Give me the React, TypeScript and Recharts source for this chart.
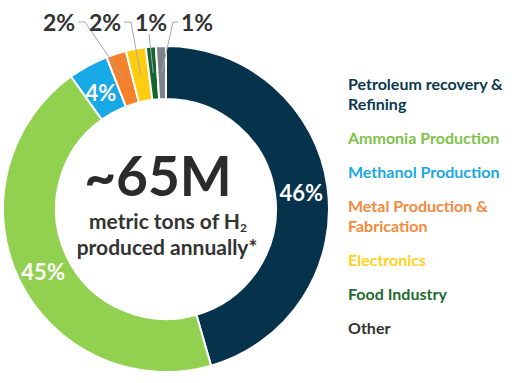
import React from "react";
import { PieChart, Pie, Cell, Legend, Label } from "recharts";

const categories = [
  "Petroleum recovery & Refining",
  "Ammonia Production",
  "Methanol Production",
  "Metal Production & Fabrication",
  "Electronics",
  "Food Industry",
  "Other",
];
const shares = [46, 45, 4, 2, 2, 1, 1];
const sliceColors = ["#06324b", "#92d050", "#16a9e6", "#f4812c", "#ffcc10", "#13652f", "#7d8188"];
const legendColors = ["#0c3850", "#7ec24a", "#1aa8e2", "#f58a3d", "#ffd21e", "#1e6a30", "#333333"];
const centerBig = "~65M";
const centerLine1 = "metric tons of H";
const centerLine2 = "produced annually*";

const data = categories.map((name, i) => ({ name, value: shares[i] }));

const FONT = "Lato, 'Open Sans', sans-serif";
const RAD = Math.PI / 180;

function renderLabel(props: any) {
  const { cx, cy, midAngle, innerRadius, outerRadius, index, value } = props;
  const r = (innerRadius + outerRadius) / 2;
  const px = cx + r * Math.cos(-midAngle * RAD);
  const py = cy + r * Math.sin(-midAngle * RAD);
  const text = `${value}%`;
  if (index < 3) {
    return (
      <text key={`l${index}`} x={px} y={py + 3} fill="#fff" fontFamily={FONT} fontWeight={700} fontSize={22}
        textAnchor="middle" dominantBaseline="central">
        {text}
      </text>
    );
  }
  // small slices: labels in a row above the ring with leader lines
  const tx = cx - 107 + (index - 3) * 46;
  const ty = cy - outerRadius - 24;
  let pts: string;
  if (index === 3 || index === 4) {
    pts = `${tx + 19},${ty} ${tx + 26},${ty} ${px},${py}`;
  } else if (index === 5) {
    pts = `${tx - 2},${ty + 12} ${px},${py}`;
  } else {
    pts = `${tx - 19},${ty} ${tx - 24},${ty} ${px},${py}`;
  }
  return (
    <g key={`l${index}`}>
      <polyline points={pts} fill="none" stroke="#a6a6a6" strokeWidth={1} />
      <text x={tx} y={ty} fill="#333" fontFamily={FONT} fontWeight={700} fontSize={23}
        textAnchor="middle" dominantBaseline="central">
        {text}
      </text>
    </g>
  );
}

function CenterText(props: any) {
  const vb = props.viewBox || {};
  const cx = vb.cx ?? 166;
  const cy = vb.cy ?? 209;
  return (
    <g fontFamily={FONT} fontWeight={700} fill="#2b2b2b" textAnchor="middle">
      <text x={cx - 8} y={cy - 13} fontSize={55} fill="#2b2b2b" textAnchor="middle">{centerBig}</text>
      <text x={cx + 2} y={cy + 20} fontSize={21} fill="#333" textAnchor="middle">
        {centerLine1}
        <tspan fontSize={12} dy={3}>2</tspan>
      </text>
      <text x={cx + 1} y={cy + 46} fontSize={21} fill="#333" textAnchor="middle">{centerLine2}</text>
    </g>
  );
}

function LegendBox() {
  return (
    <div style={{ width: 164, fontFamily: FONT, fontWeight: 700, fontSize: 16, lineHeight: "20px" }}>
      {categories.map((c, i) => (
        <div key={c} style={{ color: legendColors[i], marginBottom: 14 }}>{c}</div>
      ))}
    </div>
  );
}

export default function App() {
  return (
    <div style={{ position: "fixed", left: 0, top: 0, width: 512, height: 383, background: "#fff" }}>
      <PieChart width={512} height={383} margin={{ top: 0, right: 0, bottom: 0, left: 0 }}>
        <Pie
          data={data}
          dataKey="value"
          nameKey="name"
          cx={166}
          cy={209}
          innerRadius={110}
          outerRadius={163}
          startAngle={90}
          endAngle={-270}
          stroke="#fff"
          strokeWidth={2}
          label={renderLabel}
          labelLine={false}
          isAnimationActive={false}
        >
          {data.map((d, i) => (
            <Cell key={d.name} fill={sliceColors[i]} />
          ))}
          <Label position="center" content={CenterText} />
        </Pie>
        <Legend
          layout="vertical"
          verticalAlign="top"
          align="right"
          content={() => <LegendBox />}
          wrapperStyle={{ left: 348, top: 74, width: 164 }}
        />
      </PieChart>
    </div>
  );
}
